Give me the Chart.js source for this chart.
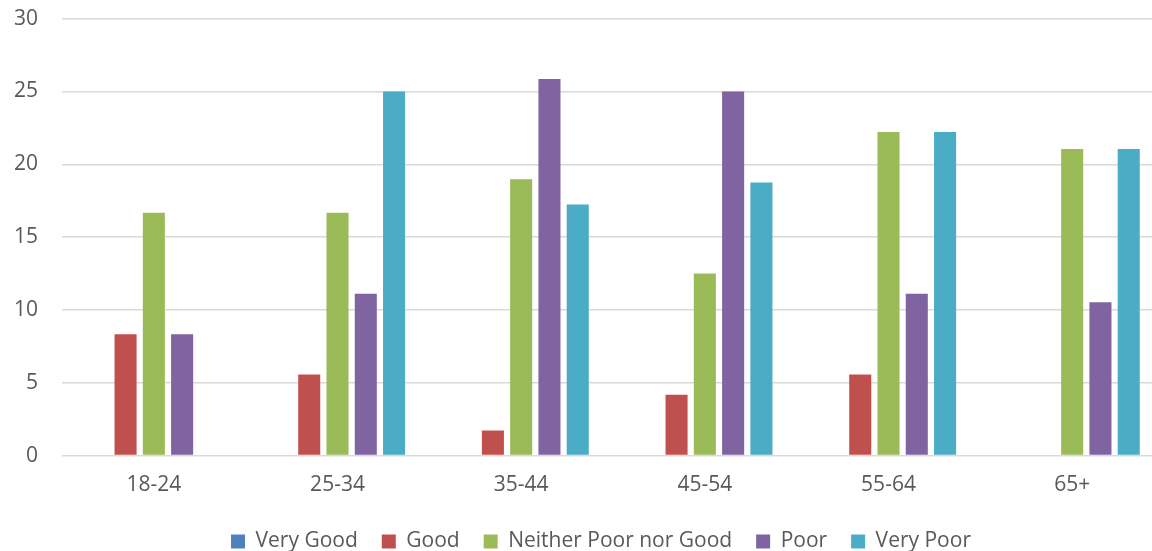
<!DOCTYPE html>
<html>
<head>
<meta charset="utf-8">
<script src="https://cdn.jsdelivr.net/npm/chart.js@4"></script>
<style>
  html, body { margin: 0; padding: 0; background: #fff; overflow: hidden; }
  #wrap { width: 1152px; height: 551px; overflow: hidden; }
  #box { width: 1200px; height: 551px; position: relative; }
</style>
</head>
<body>
<div id="wrap"><div id="box"><canvas id="chart"></canvas></div></div>
<script>
// age bands and answers (percent)
const ageGroups = ['18-24', '25-34', '35-44', '45-54', '55-64', '65+'];
const veryGood = [0, 0, 0, 0, 0, 0];
const good = [8.33, 5.56, 1.72, 4.17, 5.56, 0];
const neither = [16.67, 16.67, 18.97, 12.5, 22.22, 21.05];
const poor = [8.33, 11.11, 25.86, 25, 11.11, 10.53];
const veryPoor = [0, 25, 17.24, 18.75, 22.22, 21.05];
const yTicks = [0, 5, 10, 15, 20, 25, 30];

const textColor = '#595959';

function series(label, data, color) {
    return {
        label: label,
        data: data,
        backgroundColor: color,
        categoryPercentage: 0.77,
        barPercentage: 0.78
    };
}

// nudge the legend so it sits centred under the visible part of the chart
const legendShift = {
    id: 'legendShift',
    afterLayout: function (chart) {
        chart.legend.left += 15;
        chart.legend.right += 15;
    }
};

new Chart(document.getElementById('chart'), {
    type: 'bar',
    data: {
        labels: ageGroups,
        datasets: [
            series('Very Good', veryGood, '#4F81BD'),
            series('Good', good, '#C0504D'),
            series('Neither Poor nor Good', neither, '#9BBB59'),
            series('Poor', poor, '#8064A2'),
            series('Very Poor', veryPoor, '#4BACC6')
        ]
    },
    plugins: [legendShift],
    options: {
        responsive: true,
        maintainAspectRatio: false,
        animation: false,
        layout: { padding: { left: 8, right: 36, top: 0, bottom: -11 } },
        plugins: {
            tooltip: { enabled: false },
            legend: {
                position: 'bottom',
                labels: {
                    color: textColor,
                    font: { family: 'Open Sans', size: 21 },
                    boxWidth: 14,
                    boxHeight: 14,
                    padding: 24
                }
            }
        },
        scales: {
            x: {
                grid: { display: false },
                border: { display: false },
                ticks: {
                    color: textColor,
                    font: { family: 'Open Sans', size: 21, lineHeight: 0.45 },
                    padding: 17
                }
            },
            y: {
                min: 0,
                max: 30,
                afterBuildTicks: function (axis) {
                    axis.ticks = yTicks.map(v => ({ value: v }));
                },
                grid: { color: '#d9d9d9', lineWidth: 1.5, tickLength: 18, tickColor: 'rgba(0,0,0,0)' },
                border: { display: false },
                ticks: {
                    color: textColor,
                    font: { family: 'Open Sans', size: 21 },
                    padding: 6
                }
            }
        }
    }
});
</script>
</body>
</html>
